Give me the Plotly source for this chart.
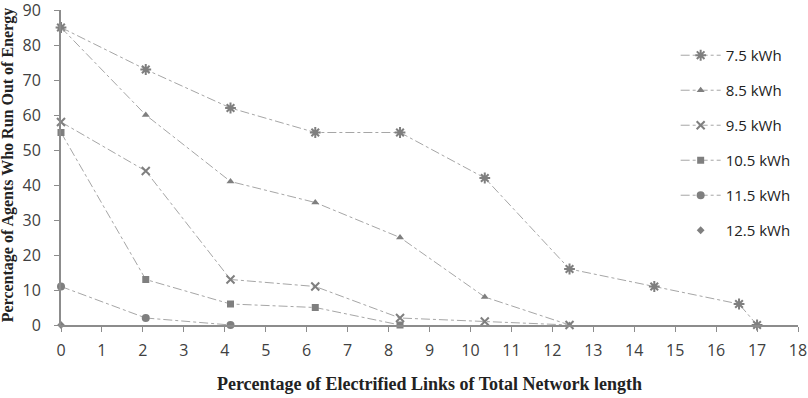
import plotly.graph_objects as go

# data
series = {
    "7.5 kWh": ([0, 2.07, 4.14, 6.21, 8.28, 10.35, 12.42, 14.49, 16.56, 17],
                [85, 73, 62, 55, 55, 42, 16, 11, 6, 0]),
    "8.5 kWh": ([0, 2.07, 4.14, 6.21, 8.28, 10.35, 12.42],
                [85, 60, 41, 35, 25, 8, 0]),
    "9.5 kWh": ([0, 2.07, 4.14, 6.21, 8.28, 10.35, 12.42],
                [58, 44, 13, 11, 2, 1, 0]),
    "10.5 kWh": ([0, 2.07, 4.14, 6.21, 8.28],
                 [55, 13, 6, 5, 0]),
    "11.5 kWh": ([0, 2.07, 4.14],
                 [11, 2, 0]),
    "12.5 kWh": ([0],
                 [0]),
}
symbols = {
    "7.5 kWh": ("asterisk-open", 9),
    "8.5 kWh": ("triangle-up", 7),
    "9.5 kWh": ("x-thin-open", 8),
    "10.5 kWh": ("square", 7),
    "11.5 kWh": ("circle", 8),
    "12.5 kWh": ("diamond", 6),
}
x_ticks = list(range(0, 19))
y_ticks = list(range(0, 91, 10))
x_title = "Percentage of Electrified Links of Total Network length"
y_title = "Percentage of Agents Who Run Out of Energy"

MARK = "#7f7f7f"
LINE = "#a6a6a6"

fig = go.Figure()
for name, (xs, ys) in series.items():
    sym, size = symbols[name]
    mode = "markers" if name == "12.5 kWh" else "lines+markers"
    fig.add_trace(go.Scatter(
        x=xs, y=ys, name=name, mode=mode, legendgroup=name,
        line=dict(color=LINE, width=1, dash="dashdot"),
        marker=dict(symbol=sym, size=size, color=MARK,
                    line=dict(color=MARK, width=2 if "open" in sym else 0)),
        cliponaxis=False,
    ))

fig.add_annotation(
    text=f"<b>{y_title}</b>", textangle=-90, showarrow=False,
    xref="paper", yref="paper", x=-0.072, y=0.51,
    xanchor="center", yanchor="middle",
    font=dict(family="Liberation Serif", size=16, color="#222"),
)

fig.update_layout(
    width=808, height=398,
    margin=dict(l=61, r=10, t=10, b=73),
    plot_bgcolor="white", paper_bgcolor="white",
    font=dict(family="Open Sans", color="#404040"),
    showlegend=True,
    legend=dict(x=0.834, y=0.908, xanchor="left", yanchor="top",
                font=dict(family="Open Sans", size=15, color="#222"),
                tracegroupgap=12.5, traceorder="grouped",
                bgcolor="rgba(0,0,0,0)", itemwidth=40),
    xaxis=dict(range=[0, 18], tickvals=x_ticks, showgrid=False, zeroline=False,
               showline=True, linecolor="#8c8c8c", linewidth=2,
               ticks="outside", ticklen=5, tickcolor="#8c8c8c", tickwidth=1,
               tickfont=dict(size=16, color="#404040"), ticklabelstandoff=5,
               ticklabeloverflow="allow", automargin=False,
               title=dict(text=f"<b>{x_title}</b>",
                          font=dict(family="Liberation Serif", size=18, color="#222"),
                          standoff=17)),
    yaxis=dict(range=[0, 90], tickvals=y_ticks, showgrid=False, zeroline=False,
               showline=True, linecolor="#8c8c8c", linewidth=2,
               ticks="outside", ticklen=5, tickcolor="#8c8c8c", tickwidth=1,
               tickfont=dict(size=16, color="#404040"), ticklabelstandoff=10,
               ticklabeloverflow="allow", automargin=False),
)

fig.write_html("out.html", config={"displayModeBar": False},
               post_script="document.body.style.margin='0';document.body.style.overflow='hidden';")
